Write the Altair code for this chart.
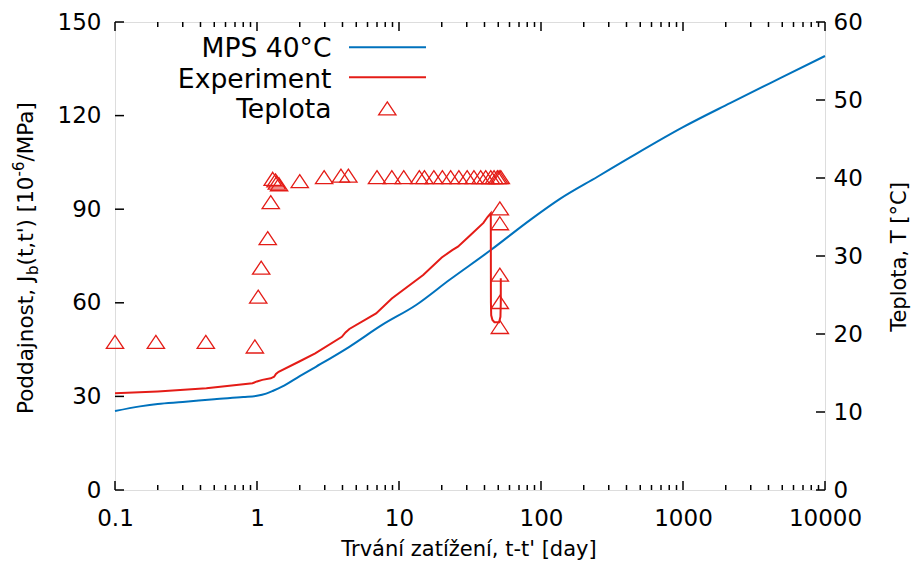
import altair as alt
import pandas as pd

# ---------------- data ----------------
mps_t = [0.1, 0.15, 0.2, 0.3, 0.5, 0.8, 1.0, 1.16, 1.3, 1.5, 2.0, 2.6, 4.47, 7.6, 13.2,
         22.6, 44.3, 83.6, 136, 250, 424, 1000, 2146, 4837, 10000]
mps_j = [25.3, 26.8, 27.6, 28.2, 29.1, 29.8, 30.2, 30.9, 31.8, 33.1, 36.5, 39.5, 45.9, 52.9, 59.3,
         67.3, 76.9, 86.5, 93.3, 100.4, 106.6, 116.3, 124.0, 132.0, 139.1]

exp_t = [0.1, 0.2, 0.44, 0.93, 1.0, 1.09, 1.25, 1.32, 1.36, 1.42, 1.97, 2.57, 3.96, 4.2, 4.47,
         6.9, 8.9, 14.8, 20.0, 23.7, 26.0, 31.9, 39.3, 42.0, 44.3, 44.4, 44.6, 45.5, 47.0, 50.7,
         51.8, 52.1, 52.1]
exp_j = [31.0, 31.6, 32.6, 34.2, 34.8, 35.3, 35.8, 36.3, 37.2, 37.9, 41.1, 43.8, 49.1, 50.5, 51.6,
         56.6, 61.4, 68.9, 74.5, 76.9, 78.0, 81.7, 85.6, 87.5, 88.7, 60.0, 56.0, 54.5, 53.8, 53.8,
         55.5, 60.0, 67.9]

temp_t = [0.1, 0.194, 0.436, 0.966, 1.02, 1.07, 1.19, 1.25, 1.29, 1.35, 1.38, 1.43, 2.0, 2.97,
          3.9, 4.4, 7.0, 8.9, 10.8, 13.9, 15.1, 17.6, 20.2, 23.1, 26.4, 30.2, 33.7, 37.6, 40.8,
          44.3, 46.7, 49.3, 50.7, 52.1, 51.3, 51.3, 51.3, 51.3, 51.3]
temp_T = [19.0, 19.0, 19.0, 18.4, 24.8, 28.5, 32.3, 36.9, 39.9, 39.7, 39.4, 39.2, 39.6, 40.1,
          40.3, 40.3, 40.1, 40.1, 40.1, 40.1, 40.1, 40.1, 40.1, 40.1, 40.1, 40.1, 40.1, 40.1, 40.1,
          40.1, 40.1, 40.1, 40.1, 40.1, 36.1, 34.2, 27.6, 24.1, 20.9]

x_ticks = [0.1, 1, 10, 100, 1000, 10000]
x_minor = [k * d for d in [0.1, 1, 10, 100, 1000] for k in range(2, 10)]
y_ticks = [0, 30, 60, 90, 120, 150]
y2_ticks = [0, 10, 20, 30, 40, 50, 60]

legend_labels = ["MPS 40°C", "Experiment", "Teplota"]
x_title = "Trvání zatížení, t-t' [day]"
y_title_parts = ["Poddajnost, J", "b", "(t,t') [10", "-6", "/MPa]"]
y2_title = "Teplota, T [°C]"

# ---------------- styling ----------------
W, H = 710, 468
FONT = "DejaVu Sans"
BLUE = "#0072bd"
RED = "#e41c17"
TRI = "M0,-0.75L1,0.75L-1,0.75Z"

df_mps = pd.DataFrame({"t": mps_t, "J": mps_j})
df_exp = pd.DataFrame({"t": exp_t, "J": exp_j, "i": range(len(exp_t))})
df_tmp = pd.DataFrame({"t": temp_t, "T": temp_T})

xscale = alt.Scale(type="log", domain=[0.1, 10000], nice=False)
xaxis = alt.Axis(values=x_ticks, format="~g", tickSize=0, domain=False, grid=False,
                 labelFontSize=23, labelFont=FONT, labelColor="black", labelPadding=17,
                 title=None, labelFlush=False)
X = alt.X("t:Q", scale=xscale, axis=xaxis)

lscale = alt.Scale(domain=[0, 150], nice=False, zero=False)
laxis = alt.Axis(values=y_ticks, tickSize=0, domain=False, grid=False, labelFontSize=23,
                 labelFont=FONT, labelColor="black", labelPadding=14, title=None, labelFlush=False)
rscale = alt.Scale(domain=[0, 60], nice=False, zero=False)
raxis = alt.Axis(orient="right", values=y2_ticks, tickSize=0, domain=False, grid=False,
                 labelFontSize=23, labelFont=FONT, labelColor="black", labelPadding=8,
                 title=None, labelFlush=False)

mps_line = alt.Chart(df_mps).mark_line(color=BLUE, strokeWidth=2, interpolate="monotone").encode(
    x=X, y=alt.Y("J:Q", scale=lscale, axis=laxis))
exp_line = alt.Chart(df_exp).mark_line(color=RED, strokeWidth=2).encode(
    x=X, y=alt.Y("J:Q", scale=lscale, axis=laxis), order="i:Q")

# tick marks (inward, gnuplot-like)
df_xt = pd.DataFrame({"t": x_ticks})
df_xm = pd.DataFrame({"t": x_minor})
bot_major = alt.Chart(df_xt).mark_rule(color="black", strokeWidth=1.5).encode(
    x=X, y=alt.value(H), y2=alt.value(H - 9))
bot_minor = alt.Chart(df_xm).mark_rule(color="black", strokeWidth=1.5).encode(
    x=X, y=alt.value(H), y2=alt.value(H - 5))
top_major = alt.Chart(df_xt).mark_rule(color="black", strokeWidth=1.5).encode(
    x=X, y=alt.value(0), y2=alt.value(9))
top_minor = alt.Chart(df_xm).mark_rule(color="black", strokeWidth=1.5).encode(
    x=X, y=alt.value(0), y2=alt.value(5))
left_ticks = alt.Chart(pd.DataFrame({"J": y_ticks})).mark_rule(color="black", strokeWidth=1.5).encode(
    y=alt.Y("J:Q", scale=lscale, axis=laxis), x=alt.value(0), x2=alt.value(9))

# titles
x_title_mark = alt.Chart(pd.DataFrame({"s": [x_title]})).mark_text(
    font=FONT, fontSize=21, color="black", align="center", baseline="alphabetic").encode(
    x=alt.value(W / 2 - 1), y=alt.value(534), text="s:N")

yt_sizes = [21.5, 15, 21.5, 15, 21.5]
yt_widths_em = [6.466, 0.635, 4.137, 0.997, 2.806]
yt_shift = [0, 5, 0, -9, 0]
y0 = 392
ytitle_layers = []
pos = y0
for part, fs, wem, sh in zip(y_title_parts, yt_sizes, yt_widths_em, yt_shift):
    ytitle_layers.append(
        alt.Chart(pd.DataFrame({"s": [part]})).mark_text(
            font=FONT, fontSize=fs, color="black", align="left", baseline="alphabetic",
            angle=270).encode(x=alt.value(-82 + sh), y=alt.value(pos), text="s:N"))
    pos -= fs * wem

y2_title_mark = alt.Chart(pd.DataFrame({"s": [y2_title]})).mark_text(
    font=FONT, fontSize=21, color="black", align="center", baseline="alphabetic",
    angle=270).encode(x=alt.value(791), y=alt.value(235), text="s:N")

# legend (gnuplot style: label then sample)
leg_y = [35.3, 66.3, 96.3]
leg_layers = []
for lab, ly in zip(legend_labels, leg_y):
    leg_layers.append(alt.Chart(pd.DataFrame({"s": [lab]})).mark_text(
        font=FONT, fontSize=26.6, color="black", align="right", baseline="alphabetic").encode(
        x=alt.value(216.5), y=alt.value(ly), text="s:N"))
leg_mps = alt.Chart(pd.DataFrame({"s": [legend_labels[0]]})).mark_rule(color=BLUE, strokeWidth=2).encode(
    x=alt.value(234), x2=alt.value(311), y=alt.value(25.3))
leg_exp = alt.Chart(pd.DataFrame({"s": [legend_labels[1]]})).mark_rule(color=RED, strokeWidth=2).encode(
    x=alt.value(234), x2=alt.value(311), y=alt.value(55.3))
leg_tri = alt.Chart(pd.DataFrame({"s": [legend_labels[2]]})).mark_point(
    shape=TRI, size=300, color=RED, strokeWidth=1.3, filled=False, opacity=1).encode(
    x=alt.value(272.3), y=alt.value(86.3))

left_group = alt.layer(mps_line, exp_line, bot_major, bot_minor, top_major, top_minor,
                       left_ticks, x_title_mark, *ytitle_layers, y2_title_mark,
                       *leg_layers, leg_mps, leg_exp, leg_tri)

tri = alt.Chart(df_tmp).mark_point(shape=TRI, size=300, color=RED, strokeWidth=1.3,
                                   filled=False, opacity=1).encode(
    x=X, y=alt.Y("T:Q", scale=rscale, axis=raxis))
right_ticks = alt.Chart(pd.DataFrame({"T": y2_ticks})).mark_rule(color="black", strokeWidth=1.5).encode(
    y=alt.Y("T:Q", scale=rscale, axis=raxis), x=alt.value(W), x2=alt.value(W - 9))
right_group = alt.layer(tri, right_ticks)

chart = alt.layer(left_group, right_group).resolve_scale(y="independent").properties(
    width=W, height=H,
    autosize=alt.AutoSizeParams(type="none"),
    padding={"left": 107, "top": 14, "right": 87, "bottom": 71},
).configure_view(stroke="black", strokeWidth=2).configure(background="white")

chart.save("out.html", embed_options={"renderer": "svg", "actions": False})
